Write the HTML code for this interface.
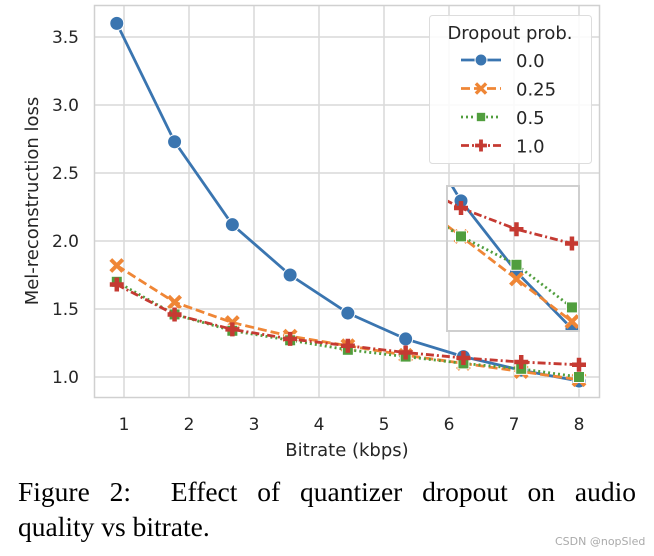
<!DOCTYPE html>
<html><head><meta charset="utf-8"><style>
body{margin:0;background:#fff;width:654px;height:556px;overflow:hidden}
svg text{font-family:"DejaVu Sans","Liberation Sans",sans-serif;fill:#262626}
.cap{position:absolute;left:18px;width:618px;font-family:"Liberation Serif",serif;font-size:27.5px;color:#000;text-align:justify;text-align-last:justify;line-height:35px;white-space:nowrap}
</style></head><body>
<svg id="chart" width="654" height="556" style="position:absolute;left:0;top:0" xmlns="http://www.w3.org/2000/svg">
<g id="grid"></g>
<rect x="94.5" y="5.5" width="505" height="392" fill="none" stroke="#d0d0d0" stroke-width="1.5"/>
<g id="series"></g>
<g id="inset"></g>
<g id="ticks"></g>
<text x="347" y="456" font-size="18" text-anchor="middle">Bitrate (kbps)</text>
<text x="38" y="201" font-size="18" text-anchor="middle" transform="rotate(-90 38 201)">Mel-reconstruction loss</text>
<g id="legend"></g>
<text x="555" y="545" font-size="11" style="fill:#aaa">CSDN @nopSled</text>
</svg>
<div class="cap" style="top:474px">Figure 2:&nbsp; Effect of quantizer dropout on audio</div>
<div class="cap" style="top:509px;text-align-last:left">quality vs bitrate.</div>
<script>
const bitrates=[0.889,1.778,2.667,3.556,4.444,5.333,6.222,7.111,8];
const seriesNames=["0.0","0.25","0.5","1.0"];
const loss00=[3.60,2.73,2.12,1.75,1.47,1.28,1.15,1.05,0.97];
const loss025=[1.82,1.55,1.40,1.30,1.23,1.16,1.10,1.04,0.98];
const loss05=[1.70,1.46,1.34,1.27,1.20,1.15,1.10,1.06,1.00];
const loss10=[1.68,1.46,1.35,1.28,1.23,1.18,1.14,1.11,1.09];
const xTicks=[1,2,3,4,5,6,7,8];
const yTicks=[1.0,1.5,2.0,2.5,3.0,3.5];
const NS="http://www.w3.org/2000/svg";
const X=v=>124+(v-1)*65, Y=v=>377-(v-1)*136;
const IX=v=>461+(v-6.222)*62.4, IY=v=>208-(v-1.14)*710;
const colors=["#3a75b0","#ef8636","#519e3e","#c53a32"];
const dashes=["","9,4","2,3","8,3,2,3"];
const data=[loss00,loss025,loss05,loss10];
function mk(t,a,p){const e=document.createElementNS(NS,t);for(const k in a)e.setAttribute(k,a[k]);p.appendChild(e);return e;}
const grid=document.getElementById('grid');
xTicks.forEach(t=>{const l=mk('line',{x1:X(t),x2:X(t),y1:5,y2:397,stroke:'#d9d9d9','stroke-width':1.5},grid);

});
yTicks.forEach(t=>{const l=mk('line',{x1:94,x2:600,y1:Y(t),y2:Y(t),stroke:'#d9d9d9','stroke-width':1.5},grid);

});
const ticks=document.getElementById('ticks');
xTicks.forEach(t=>{const e=mk('text',{x:X(t),y:430,'font-size':17,'text-anchor':'middle'},ticks);e.textContent=t;

});
yTicks.forEach(t=>{const e=mk('text',{x:79,y:Y(t)+6,'font-size':17,'text-anchor':'end'},ticks);e.textContent=t.toFixed(1);

});
function marker(i,x,y,p,s){s=s||1;let e;
if(i==0)e=mk('circle',{cx:x,cy:y,r:7*s,fill:colors[0],stroke:'#fff','stroke-width':1},p);
else if(i==1)e=mk('path',{d:`M${x-6*s},${y-6*s}L${x+6*s},${y+6*s}M${x+6*s},${y-6*s}L${x-6*s},${y+6*s}`,stroke:colors[1],'stroke-width':4*s,fill:'none'},p);
else if(i==2)e=mk('rect',{x:x-5.5*s,y:y-5.5*s,width:11*s,height:11*s,fill:colors[2],stroke:'#fff','stroke-width':1},p);
else e=mk('path',{d:`M${x-7*s},${y}L${x+7*s},${y}M${x},${y-7*s}L${x},${y+7*s}`,stroke:colors[3],'stroke-width':4.5*s,fill:'none'},p);
return e;}
function drawSeries(p,fx,fy,idx){
data.forEach((d,i)=>{const g=mk('g',{},p);


const pts=d.map((v,j)=>fx(bitrates[j])+','+fy(v)).join(' ');
mk('polyline',{points:pts,fill:'none',stroke:colors[i],'stroke-width':2.8,'stroke-dasharray':dashes[i]},g);
d.forEach((v,j)=>{if(idx&&!idx(j))return;const m=marker(i,fx(bitrates[j]),fy(v),g);

});});}
drawSeries(document.getElementById('series'),X,Y);
const inset=document.getElementById('inset');
mk('rect',{x:447,y:186,width:132,height:145,fill:'#fff'},inset);
const cp=mk('clipPath',{id:'ic'},inset);mk('rect',{x:447,y:186,width:132,height:145},cp);
const ig=mk('g',{'clip-path':'url(#ic)'},inset);
[7].forEach(t=>{mk('line',{x1:X(t),x2:X(t),y1:186,y2:331,stroke:'#d9d9d9','stroke-width':1.5},ig);});
[1.5,2.0].forEach(t=>{mk('line',{x1:447,x2:579,y1:Y(t),y2:Y(t),stroke:'#d9d9d9','stroke-width':1.5},ig);});
drawSeries(ig,IX,IY,j=>j>=6);
const ib=mk('rect',{x:447,y:186,width:132,height:145,fill:'none',stroke:'#cfcfcf','stroke-width':2},inset);


const lg=document.getElementById('legend');
mk('rect',{x:429.5,y:15.5,width:162,height:148,rx:3,fill:'#fff','fill-opacity':0.85,stroke:'#ddd'},lg);
const lt=mk('text',{x:510,y:39,'font-size':18,'text-anchor':'middle'},lg);lt.textContent='Dropout prob.';


seriesNames.forEach((n,i)=>{const y=60+i*28.5;const g=mk('g',{},lg);


mk('line',{x1:461,x2:501,y1:y,y2:y,stroke:colors[i],'stroke-width':2.8,'stroke-dasharray':dashes[i]},g);
marker(i,481,y,g,0.85);
const t=mk('text',{x:516,y:y+7,'font-size':18},g);t.textContent=n;});
</script>
</body></html>
